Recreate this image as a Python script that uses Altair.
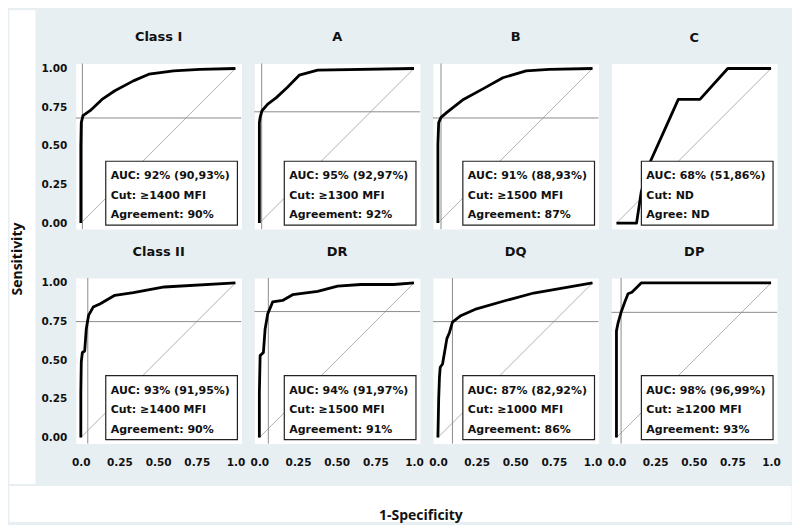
import altair as alt
import pandas as pd

# ---------------- data ----------------
panel_names = ["Class I", "A", "B", "C", "Class II", "DR", "DQ", "DP"]

fpr_class_i = [0, 0, 0.003, 0.014, 0.06, 0.137, 0.22, 0.34, 0.44, 0.60, 0.77, 1.0]
tpr_class_i = [0, 0.50, 0.65, 0.695, 0.727, 0.80, 0.856, 0.92, 0.963, 0.985, 0.995, 1.0]

fpr_a = [0, 0, 0.005, 0.017, 0.054, 0.108, 0.18, 0.258, 0.377, 1.0]
tpr_a = [0, 0.65, 0.684, 0.727, 0.77, 0.81, 0.877, 0.957, 0.99, 1.0]

fpr_b = [0, 0, 0.005, 0.02, 0.058, 0.165, 0.294, 0.42, 0.57, 0.72, 1.0]
tpr_b = [0, 0.51, 0.65, 0.684, 0.716, 0.80, 0.87, 0.94, 0.985, 0.995, 1.0]

fpr_c = [0, 0.13, 0.16, 0.22, 0.31, 0.40, 0.54, 0.72, 1.0]
tpr_c = [0, 0, 0.2, 0.4, 0.6, 0.8, 0.8, 1.0, 1.0]

fpr_class_ii = [0, 0, 0.003, 0.01, 0.025, 0.035, 0.05, 0.08, 0.126, 0.22, 0.34, 0.54, 1.0]
tpr_class_ii = [0, 0.29, 0.49, 0.55, 0.56, 0.70, 0.79, 0.844, 0.866, 0.92, 0.937, 0.974, 1.0]

fpr_dr = [0, 0, 0.005, 0.026, 0.037, 0.054, 0.086, 0.15, 0.215, 0.377, 0.506, 0.656, 0.87, 1.0]
tpr_dr = [0, 0.29, 0.53, 0.55, 0.70, 0.80, 0.877, 0.887, 0.924, 0.946, 0.98, 0.99, 0.99, 1.0]

fpr_dq = [0, 0.005, 0.01, 0.015, 0.03, 0.058, 0.075, 0.094, 0.144, 0.25, 0.445, 0.62, 1.0]
tpr_dq = [0, 0.25, 0.39, 0.455, 0.476, 0.64, 0.68, 0.747, 0.786, 0.833, 0.888, 0.935, 1.0]

fpr_dp = [0, 0, 0, 0.01, 0.03, 0.054, 0.075, 0.10, 0.16, 1.0]
tpr_dp = [0, 0.29, 0.69, 0.74, 0.81, 0.877, 0.93, 0.94, 1.0, 1.0]

fprs = [fpr_class_i, fpr_a, fpr_b, fpr_c, fpr_class_ii, fpr_dr, fpr_dq, fpr_dp]
tprs = [tpr_class_i, tpr_a, tpr_b, tpr_c, tpr_class_ii, tpr_dr, tpr_dq, tpr_dp]

cut_fpr = [0.01, 0.015, 0.02, None, 0.045, 0.058, 0.094, 0.03]
cut_tpr = [0.68, 0.72, 0.68, None, 0.75, 0.815, 0.75, 0.81]

auc_text = ["AUC: 92% (90,93%)", "AUC: 95% (92,97%)", "AUC: 91% (88,93%)", "AUC: 68% (51,86%)",
            "AUC: 93% (91,95%)", "AUC: 94% (91,97%)", "AUC: 87% (82,92%)", "AUC: 98% (96,99%)"]
cut_text = ["Cut: \u22651400 MFI", "Cut: \u22651300 MFI", "Cut: \u22651500 MFI", "Cut: ND",
            "Cut: \u22651400 MFI", "Cut: \u22651500 MFI", "Cut: \u22651000 MFI", "Cut: \u22651200 MFI"]
agree_text = ["Agreement: 90%", "Agreement: 92%", "Agreement: 87%", "Agree: ND",
              "Agreement: 90%", "Agreement: 91%", "Agreement: 86%", "Agreement: 93%"]

tick_values = [0, 0.25, 0.5, 0.75, 1.0]

# ---------------- style ----------------
BG = "#e8eff2"
FONT = "DejaVu Sans"
TITLE_FONT = "Open Sans"
W = 166
H = 166
XS = alt.Scale(domain=[-0.0323, 1.0387], nice=False, zero=False)
YS = alt.Scale(domain=[-0.0387, 1.0323], nice=False, zero=False)
one = pd.DataFrame({"a": [0]})


def make_panel(i, show_x, show_y):
    if show_x:
        xaxis = alt.Axis(values=tick_values,
                         labelExpr="datum.value == 0 ? '0.0' : datum.value == 1 ? '1.0' : format(datum.value, '.2f')",
                         title=None, ticks=False, domain=False, grid=False,
                         labelFont=FONT, labelFontWeight="bold", labelFontSize=10.5,
                         labelColor="#111111", labelPadding=14, labelFlush=False,
                         labelOverlap=False)
    else:
        xaxis = None
    if show_y:
        yaxis = alt.Axis(values=tick_values, format=".2f",
                         title=None, ticks=False, domain=False, grid=False,
                         labelFont=FONT, labelFontWeight="bold", labelFontSize=10.5,
                         labelColor="#111111", labelPadding=9, labelFlush=False,
                         labelOverlap=False)
    else:
        yaxis = None

    X = alt.X("x:Q", scale=XS, axis=xaxis)
    Y = alt.Y("y:Q", scale=YS, axis=yaxis)

    roc = pd.DataFrame({"x": fprs[i], "y": tprs[i], "k": list(range(len(fprs[i])))})
    diag = pd.DataFrame({"x": [0, 1], "y": [0, 1]})

    layers = [alt.Chart(diag).mark_line(color="#a8a8a8", strokeWidth=0.9).encode(x=X, y=Y)]
    if cut_fpr[i] is not None:
        layers.append(alt.Chart(pd.DataFrame({"x": [cut_fpr[i]]}))
                      .mark_rule(color="#8c8c8c", strokeWidth=1).encode(x=X))
        layers.append(alt.Chart(pd.DataFrame({"y": [cut_tpr[i]]}))
                      .mark_rule(color="#8c8c8c", strokeWidth=1).encode(y=Y))
    layers.append(alt.Chart(roc).mark_line(color="black", strokeWidth=2.8, strokeJoin="round")
                  .encode(x=X, y=Y, order="k:Q"))
    layers.append(alt.Chart(one).mark_rect(fill="white", stroke="#222222", strokeWidth=1.2)
                  .encode(x=alt.value(30), x2=alt.value(162), y=alt.value(98), y2=alt.value(162)))
    for txt, yy in [(auc_text[i], 116), (cut_text[i], 135.5), (agree_text[i], 155)]:
        layers.append(alt.Chart(one).mark_text(align="left", baseline="alphabetic", font=FONT,
                                               fontSize=11, fontWeight="bold", color="#111111")
                      .encode(x=alt.value(35), y=alt.value(yy), text=alt.value(txt)))

    return alt.layer(*layers).properties(
        width=W, height=H,
        title=alt.TitleParams(text=panel_names[i], font=FONT, fontSize=13, fontWeight="bold",
                              color="#111111", anchor="middle", offset=9, baseline="alphabetic"),
    )


row1 = alt.hconcat(*[make_panel(i, False, i == 0) for i in range(4)], spacing=13, bounds="flush")
row2 = alt.hconcat(*[make_panel(i, True, i == 4) for i in range(4, 8)], spacing=13, bounds="flush")
rows = alt.vconcat(row1, row2, spacing=15)

spacer = alt.Chart(one).mark_text(text="", fontSize=1, baseline="middle").encode(
    x=alt.value(5), y=alt.value(10)).properties(
    width=10, height=20, view=alt.ViewBackground(fill=BG, stroke="transparent"))
grid = alt.vconcat(spacer, rows, spacing=0)

left = alt.Chart(pd.DataFrame({"t": ["Sensitivity"]})).mark_text(
    angle=270, font=TITLE_FONT, fontWeight="bold", fontSize=14, color="#111111",
    align="center", baseline="middle").encode(
    text="t:N", x=alt.value(9), y=alt.value(250)).properties(width=26, height=475)

top = alt.hconcat(left, grid, spacing=4)

bottom = alt.Chart(pd.DataFrame({"t": ["1-Specificity"]})).mark_text(
    font=TITLE_FONT, fontWeight="bold", fontSize=14, color="#111111",
    align="center", baseline="middle").encode(
    text="t:N", x=alt.value(413), y=alt.value(31)).properties(width=784, height=36)

chart = alt.vconcat(top, bottom, spacing=0).configure(
    background=BG, padding=0
).configure_view(fill="white", stroke="transparent")

chart.save("out.html", embed_options={"renderer": "svg", "actions": False})
